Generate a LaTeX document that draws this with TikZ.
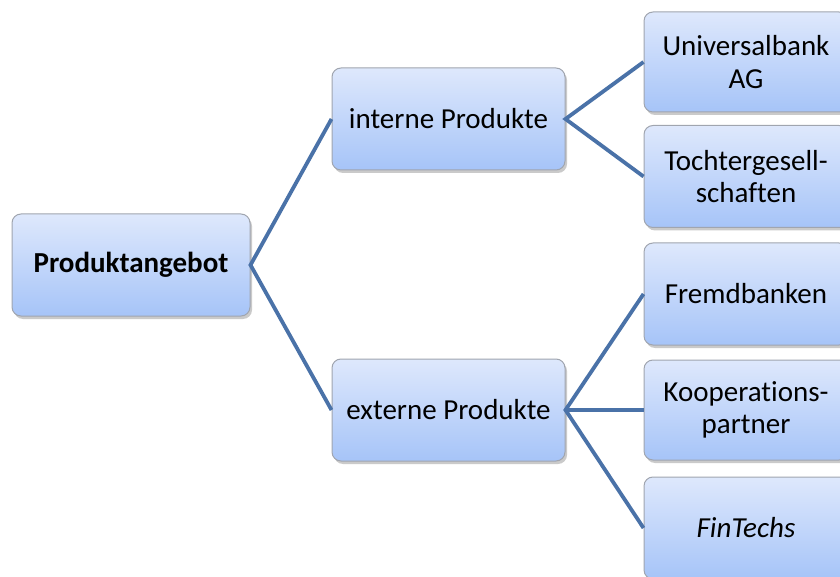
\documentclass[tikz,border=0pt]{standalone}
\usepackage{fontspec}
\setmainfont[Ligatures=NoCommon]{Carlito}
\usetikzlibrary{shadows}
\definecolor{lineblue}{RGB}{74,114,168}
\definecolor{boxtop}{RGB}{222,232,252}
\definecolor{boxbot}{RGB}{166,196,248}
\definecolor{boxborder}{RGB}{160,165,175}
\tikzset{
  box/.style={draw=boxborder, line width=1pt, rounded corners=9pt,
    top color=boxtop, bottom color=boxbot, align=center,
    inner sep=0pt, font=\fontsize{29}{32.5}\selectfont,
    drop shadow={shadow xshift=2pt, shadow yshift=-3pt, opacity=0.35, fill=black!60}},
  link/.style={draw=lineblue, line width=3.8pt}
}
\begin{document}
\begin{tikzpicture}[x=1pt,y=-1pt]
\useasboundingbox (0,0) rectangle (840,577);
\node[box, minimum width=238pt, minimum height=102pt, font=\fontsize{29}{32.5}\selectfont\bfseries] (root) at (131,265) {Produktangebot};
\node[box, minimum width=233pt, minimum height=102pt] (int) at (448.5,119) {interne Produkte};
\node[box, minimum width=233pt, minimum height=102pt] (ext) at (448.5,410) {externe Produkte};
\node[box, minimum width=204pt, minimum height=100pt] (ub) at (746,62) {Universalbank\\AG};
\node[box, minimum width=204pt, minimum height=102pt] (tg) at (746,176.5) {Tochtergesell-\\schaften};
\node[box, minimum width=204pt, minimum height=102pt] (fb) at (746,294) {Fremdbanken};
\node[box, minimum width=204pt, minimum height=100pt] (kp) at (746,410) {Kooperations-\\partner};
\node[box, minimum width=204pt, minimum height=102pt] (ft) at (746,528) {\itshape FinTechs};
\draw[link] (int.west) -- (root.east) -- (ext.west);
\draw[link] (ub.west) -- (int.east) -- (tg.west);
\draw[link] (fb.west) -- (ext.east) -- (ft.west);
\draw[link] (ext.east) -- (kp.west);
\end{tikzpicture}
\end{document}
